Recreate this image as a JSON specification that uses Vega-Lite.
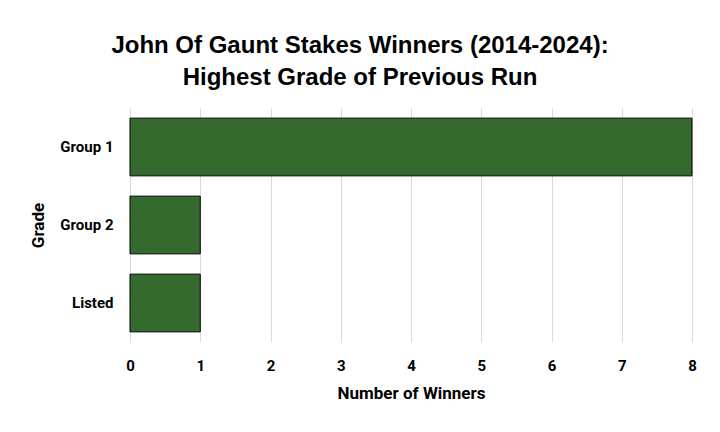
{
  "$schema": "https://vega.github.io/schema/vega-lite/v6.json",
  "width": 562,
  "height": 234,
  "autosize": {"type": "none"},
  "padding": {"left": 130, "top": 108, "right": 28, "bottom": 90},
  "background": "white",
  "title": {
    "text": ["John Of Gaunt Stakes Winners (2014-2024):", "Highest Grade of Previous Run"],
    "font": "Liberation Sans",
    "fontSize": 24,
    "fontWeight": "bold",
    "color": "#000000",
    "anchor": "middle",
    "dx": -51,
    "offset": 18,
    "lineHeight": 32
  },
  "data": {
    "values": [
      {"Grade": "Group 1", "Winners": 8},
      {"Grade": "Group 2", "Winners": 1},
      {"Grade": "Listed", "Winners": 1}
    ]
  },
  "mark": {"type": "bar", "color": "#356a2f", "stroke": "#000000", "strokeWidth": 1},
  "encoding": {
    "y": {
      "field": "Grade",
      "type": "nominal",
      "sort": ["Group 1", "Group 2", "Listed"],
      "scale": {"paddingInner": 0.26, "paddingOuter": 0.13},
      "axis": {
        "title": "Grade",
        "domain": false,
        "ticks": false,
        "labelPadding": 17,
        "titlePadding": 12
      }
    },
    "x": {
      "field": "Winners",
      "type": "quantitative",
      "scale": {"domain": [0, 8], "nice": false},
      "axis": {
        "title": "Number of Winners",
        "values": [0, 1, 2, 3, 4, 5, 6, 7, 8],
        "domain": false,
        "ticks": false,
        "labelFlush": false,
        "labelPadding": 16,
        "titlePadding": 12,
        "grid": true,
        "gridColor": "#d9d9d9"
      }
    }
  },
  "config": {
    "view": {"stroke": null},
    "axis": {
      "labelFont": "Roboto",
      "labelFontSize": 15,
      "labelFontWeight": "bold",
      "labelColor": "#000000",
      "titleFont": "Roboto",
      "titleFontSize": 17,
      "titleFontWeight": "bold",
      "titleColor": "#000000"
    }
  }
}
